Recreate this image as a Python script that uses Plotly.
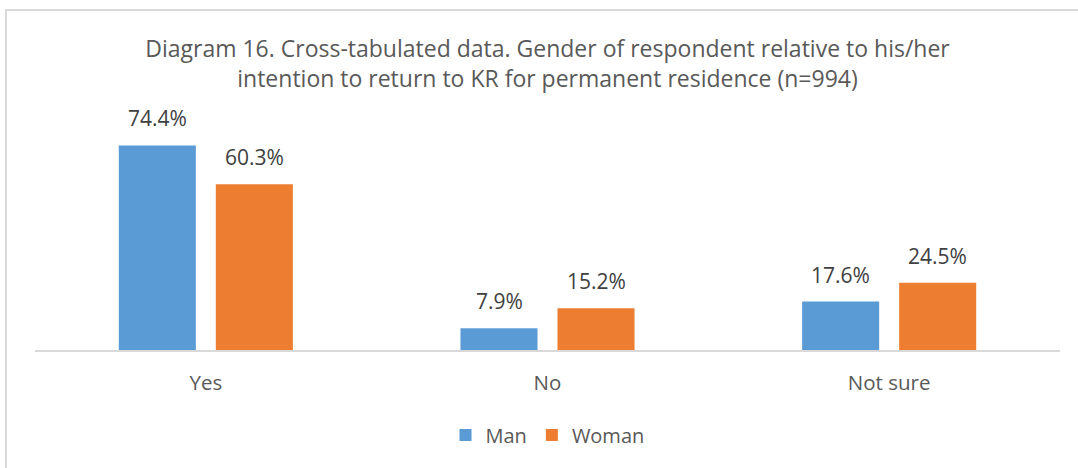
import plotly.graph_objects as go

categories = ["Yes", "No", "Not sure"]
man = [74.4, 7.9, 17.6]
woman = [60.3, 15.2, 24.5]
series_names = ["Man", "Woman"]
title_text = ("Diagram 16. Cross-tabulated data. Gender of respondent relative to his/her<br>"
              "intention to return to KR for permanent residence (n=994)")

colors = ["#5B9BD5", "#ED7D31"]
FONT = "Open Sans"

W, H = 1078, 468
ml, mr, mt, mb = 35, 18, 130, 118

fig = go.Figure()
for name, vals, col in zip(series_names, [man, woman], colors):
    fig.add_trace(go.Bar(x=categories, y=vals, name=name, marker_color=col,
                         marker_line_width=0))

# data labels
for vals, shift in zip([man, woman], [-48.5, 48.5]):
    for c, v in zip(categories, vals):
        fig.add_annotation(x=c, y=v, xref="x", yref="y", text=f"{v:.1f}%",
                           showarrow=False, xshift=shift, yshift=11, yanchor="bottom",
                           font=dict(family=FONT, size=21, color="#404040"))

ph = H - mt - mb
pw = W - ml - mr
# chart border
fig.add_shape(type="rect", xref="paper", yref="paper",
              x0=(6 - ml) / pw, x1=(W + 20 - ml) / pw,
              y0=-(H + 20 - (H - mb)) / ph, y1=1 + (mt - 10) / ph,
              line=dict(color="#D9D9D9", width=2), layer="below")

fig.update_layout(
    width=W, height=H,
    margin=dict(l=ml, r=mr, t=mt, b=mb),
    paper_bgcolor="white", plot_bgcolor="white",
    barmode="group", bargap=0.432, bargroupgap=0.206,
    title=dict(text=title_text, x=0.5, xanchor="center", xref="paper",
               y=1 - 57 / H, yanchor="middle",
               font=dict(family=FONT, size=23, color="#595959")),
    xaxis=dict(showline=True, linecolor="#D9D9D9", linewidth=1.5,
               tickfont=dict(family=FONT, size=20.5, color="#595959"),
               ticks="", ticklabelstandoff=14, showgrid=False, zeroline=False),
    yaxis=dict(range=[0, 80], visible=False, showgrid=False, zeroline=False),
    legend=dict(orientation="h", x=0.5, xanchor="center", xref="paper",
                y=-(435 - (H - mb)) / ph, yanchor="middle",
                font=dict(family=FONT, size=20, color="#595959"),
                itemwidth=30, traceorder="normal"),
    showlegend=True,
)

fig.write_html("out.html", config={"displayModeBar": False},
               post_script="document.body.style.margin='0';")
